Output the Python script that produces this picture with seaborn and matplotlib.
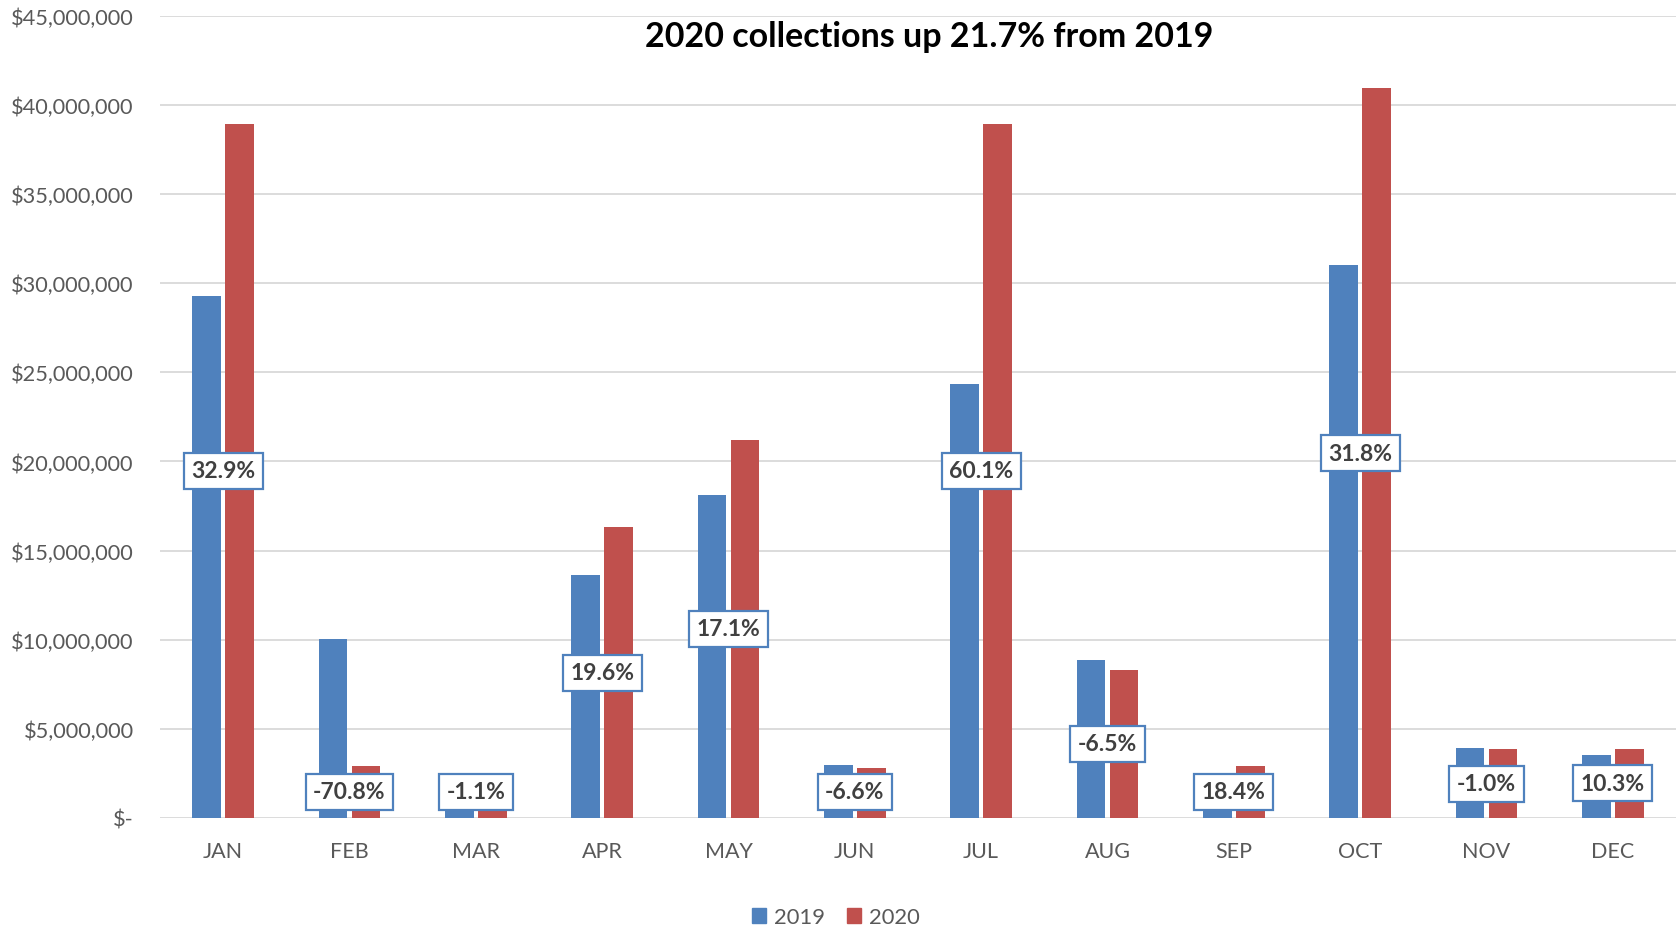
import matplotlib
matplotlib.use("Agg")
import matplotlib.pyplot as plt
import matplotlib.patches as mpatches
from matplotlib.ticker import FuncFormatter, MultipleLocator
import seaborn as sns
import pandas as pd

months = ["JAN", "FEB", "MAR", "APR", "MAY", "JUN", "JUL", "AUG", "SEP", "OCT", "NOV", "DEC"]
values_2019 = [29.28e6, 10.02e6, 1.20e6, 13.62e6, 18.12e6, 3.00e6, 24.32e6, 8.88e6, 2.48e6, 31.02e6, 3.90e6, 3.53e6]
values_2020 = [38.94e6, 2.93e6, 1.19e6, 16.30e6, 21.22e6, 2.81e6, 38.94e6, 8.32e6, 2.94e6, 40.92e6, 3.86e6, 3.89e6]
pct_labels = ["32.9%", "-70.8%", "-1.1%", "19.6%", "17.1%", "-6.6%", "60.1%", "-6.5%", "18.4%", "31.8%", "-1.0%", "10.3%"]
years = ["2019", "2020"]
title = "2020 collections up 21.7% from 2019"

BLUE = "#4F81BD"
RED = "#C0504D"
GRID = "#D9D9D9"
TXT = "#595959"

sns.set_theme(style="white")
plt.rcParams["font.family"] = ["Lato", "DejaVu Sans"]

df = pd.DataFrame({
    "month": months * 2,
    "year": [years[0]] * len(months) + [years[1]] * len(months),
    "value": values_2019 + values_2020,
})

fig = plt.figure(figsize=(16.76, 9.28), dpi=100)
ax = fig.add_axes([160 / 1676, 109 / 928, 1 - 160 / 1676, (819 - 16.7) / 928])

sns.barplot(data=df, x="month", y="value", hue="year", order=months, hue_order=years,
            palette=[BLUE, RED], width=0.524, gap=0.13, ax=ax, legend=False,
            saturation=1, edgecolor="none", linewidth=0, zorder=3)

ax.set_ylim(0, 45e6)
ax.set_xlim(-0.5, len(months) - 0.5)
ax.yaxis.set_major_locator(MultipleLocator(5e6))
ax.yaxis.set_major_formatter(FuncFormatter(lambda v, p: "$-" if v == 0 else f"${v:,.0f}"))
ax.grid(axis="y", color=GRID, linewidth=1.3, zorder=0)
ax.set_axisbelow(True)
for s in ["top", "right", "left", "bottom"]:
    ax.spines[s].set_visible(False)
ax.set_xlabel("")
ax.set_ylabel("")
ax.tick_params(axis="y", length=0, pad=19, labelsize=15.7, labelcolor=TXT)
ax.tick_params(axis="x", length=0, pad=16.5, labelsize=15.5, labelcolor=TXT)

min_label = 1.47e6
for i, lab in enumerate(pct_labels):
    y = max(values_2020[i] / 2, min_label)
    ax.text(i, y, lab, ha="center", va="center", fontsize=16.5, fontweight="bold", color="#404040",
            zorder=5,
            bbox=dict(boxstyle="square,pad=0.33", fc="white", ec=BLUE, lw=1.6))

fig.text(929 / 1676, 1 - 37 / 928, title, ha="center", va="center", fontsize=24.5,
         fontweight="bold", color="black")

handles = [mpatches.Patch(color=BLUE, label=years[0]), mpatches.Patch(color=RED, label=years[1])]
fig.legend(handles=handles, loc="center", bbox_to_anchor=(836 / 1676, 1 - 918 / 928), ncol=2,
           frameon=False, fontsize=15.8, labelcolor=TXT, handlelength=0.65, handleheight=0.65,
           handletextpad=0.35, columnspacing=1.0)

fig.savefig("out.png", dpi=100)
